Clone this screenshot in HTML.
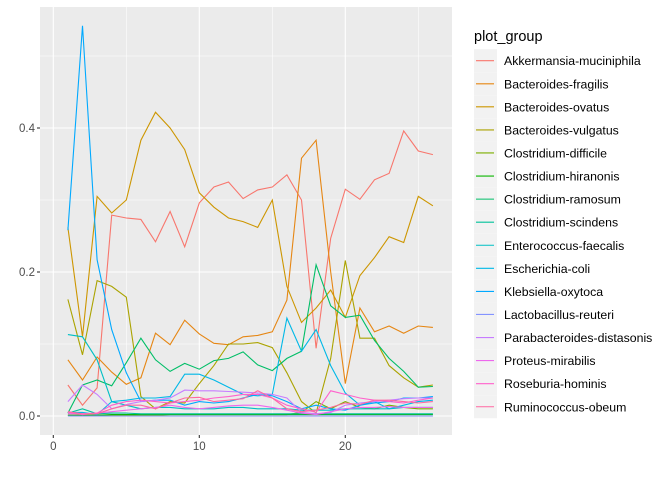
<!DOCTYPE html>
<html><head><meta charset="utf-8"><style>
body{margin:0;background:#fff;}
svg text{font-family:"Liberation Sans",sans-serif;}
</style></head><body>
<svg id="chart" width="672" height="480" xmlns="http://www.w3.org/2000/svg">
<rect x="0" y="0" width="672" height="480" fill="#fff"/>
<g id="panel"></g>
<g id="series"></g>
<g id="axes"></g>
<g id="legend"></g>
</svg>
<script>
const xs = [1,2,3,4,5,6,7,8,9,10,11,12,13,14,15,16,17,18,19,20,21,22,23,24,25,26];
const groups = ["Akkermansia-muciniphila","Bacteroides-fragilis","Bacteroides-ovatus","Bacteroides-vulgatus","Clostridium-difficile","Clostridium-hiranonis","Clostridium-ramosum","Clostridium-scindens","Enterococcus-faecalis","Escherichia-coli","Klebsiella-oxytoca","Lactobacillus-reuteri","Parabacteroides-distasonis","Proteus-mirabilis","Roseburia-hominis","Ruminococcus-obeum"];
const colors = ["#F8766D","#E68613","#CD9600","#ABA300","#7CAE00","#0CB702","#00BE67","#00C19A","#00BFC4","#00B8E7","#00A9FF","#8494FF","#C77CFF","#ED68ED","#FF61CC","#FF68A1"];
const akkermansia = [0.043,0.015,0.039,0.279,0.275,0.273,0.242,0.284,0.235,0.296,0.318,0.325,0.302,0.314,0.318,0.335,0.300,0.094,0.247,0.315,0.301,0.328,0.337,0.396,0.368,0.363];
const fragilis = [0.078,0.050,0.082,0.061,0.044,0.053,0.115,0.099,0.133,0.114,0.101,0.099,0.110,0.112,0.117,0.161,0.358,0.383,0.200,0.045,0.150,0.117,0.125,0.115,0.125,0.123];
const ovatus = [0.262,0.110,0.305,0.282,0.300,0.383,0.422,0.400,0.370,0.310,0.290,0.275,0.270,0.262,0.300,0.180,0.130,0.150,0.175,0.137,0.195,0.220,0.249,0.241,0.305,0.292];
const vulgatus = [0.162,0.085,0.188,0.180,0.165,0.027,0.010,0.020,0.018,0.045,0.070,0.100,0.100,0.102,0.095,0.060,0.020,0.004,0.080,0.216,0.108,0.108,0.070,0.053,0.040,0.043];
const difficile = [0.001,0.001,0.001,0.001,0.001,0.001,0.001,0.002,0.002,0.002,0.002,0.002,0.002,0.002,0.002,0.002,0.005,0.020,0.010,0.020,0.012,0.010,0.015,0.012,0.010,0.010];
const hiranonis = [0.001,0.001,0.001,0.002,0.002,0.002,0.002,0.002,0.002,0.002,0.002,0.002,0.002,0.002,0.002,0.002,0.002,0.002,0.002,0.002,0.002,0.002,0.002,0.002,0.002,0.002];
const ramosum = [0.004,0.043,0.050,0.042,0.074,0.108,0.078,0.062,0.073,0.065,0.077,0.080,0.089,0.071,0.063,0.080,0.090,0.210,0.153,0.137,0.140,0.105,0.080,0.062,0.040,0.041];
const scindens = [0.004,0.010,0.003,0.004,0.004,0.003,0.003,0.003,0.003,0.003,0.003,0.003,0.003,0.003,0.003,0.003,0.003,0.003,0.003,0.003,0.003,0.003,0.003,0.003,0.003,0.003];
const faecalis = [0.113,0.110,0.078,0.020,0.015,0.010,0.012,0.012,0.010,0.010,0.010,0.012,0.012,0.010,0.010,0.010,0.008,0.008,0.008,0.010,0.010,0.010,0.010,0.012,0.012,0.012];
const coli = [0.005,0.005,0.002,0.020,0.022,0.025,0.025,0.027,0.058,0.058,0.050,0.040,0.030,0.028,0.030,0.136,0.090,0.120,0.070,0.032,0.015,0.020,0.010,0.015,0.020,0.022];
const klebsiella = [0.258,0.542,0.217,0.120,0.060,0.020,0.022,0.022,0.015,0.020,0.018,0.020,0.025,0.030,0.028,0.020,0.010,0.015,0.010,0.008,0.015,0.018,0.020,0.025,0.025,0.027];
const reuteri = [0.000,0.000,0.000,0.000,0.000,0.000,0.000,0.000,0.000,0.000,0.000,0.000,0.000,0.000,0.000,0.000,0.000,0.000,0.000,0.000,0.000,0.000,0.000,0.000,0.000,0.000];
const distasonis = [0.020,0.043,0.030,0.010,0.016,0.020,0.022,0.025,0.036,0.035,0.035,0.034,0.033,0.032,0.030,0.025,0.005,0.003,0.005,0.015,0.018,0.020,0.022,0.024,0.025,0.025];
const mirabilis = [0.003,0.003,0.004,0.006,0.008,0.010,0.012,0.015,0.012,0.010,0.012,0.014,0.015,0.015,0.012,0.008,0.004,0.002,0.006,0.010,0.012,0.012,0.013,0.012,0.012,0.012];
const roseburia = [0.005,0.002,0.004,0.015,0.020,0.022,0.020,0.018,0.020,0.022,0.025,0.027,0.030,0.030,0.025,0.015,0.010,0.005,0.035,0.030,0.025,0.022,0.020,0.018,0.022,0.025];
const obeum = [0.006,0.003,0.003,0.010,0.015,0.015,0.010,0.018,0.025,0.026,0.020,0.022,0.024,0.035,0.025,0.010,0.006,0.008,0.012,0.018,0.016,0.022,0.022,0.020,0.018,0.020];
const seriesValues = [akkermansia,fragilis,ovatus,vulgatus,difficile,hiranonis,ramosum,scindens,faecalis,coli,klebsiella,reuteri,distasonis,mirabilis,roseburia,obeum];
const yTicks = [0,0.2,0.4];
const yTickLabels = ["0.0","0.2","0.4"];
const xTicks = [0,10,20];
const xTickLabels = ["0","10","20"];

const NS="http://www.w3.org/2000/svg";
const P={l:40,r:452,t:7,b:435};
function xScale(v){return 53.3+(v)*14.6;}
function yScale(v){return 416-v*720;}
function mk(tag,attrs,parent){const e=document.createElementNS(NS,tag);for(const k in attrs)e.setAttribute(k,attrs[k]);parent.appendChild(e);return e;}

const panel=document.getElementById('panel');
const bg=mk('rect',{x:P.l,y:P.t,width:P.r-P.l,height:P.b-P.t,fill:'#EBEBEB'},panel);


[0.1,0.3,0.5].forEach(v=>{const l=mk('line',{x1:P.l,x2:P.r,y1:yScale(v),y2:yScale(v),stroke:'#fff','stroke-width':0.55},panel);

});
[5,15,25].forEach(v=>{const l=mk('line',{x1:xScale(v),x2:xScale(v),y1:P.t,y2:P.b,stroke:'#fff','stroke-width':0.55},panel);

});
yTicks.forEach(v=>{const l=mk('line',{x1:P.l,x2:P.r,y1:yScale(v),y2:yScale(v),stroke:'#fff','stroke-width':1.1},panel);

});
xTicks.forEach(v=>{const l=mk('line',{x1:xScale(v),x2:xScale(v),y1:P.t,y2:P.b,stroke:'#fff','stroke-width':1.1},panel);

});

const sg=document.getElementById('series');
seriesValues.forEach((vals,i)=>{
  const pts=vals.map((v,j)=>xScale(xs[j]).toFixed(1)+','+yScale(v).toFixed(1)).join(' ');
  const pl=mk('polyline',{points:pts,fill:'none',stroke:colors[i],'stroke-width':1.1},sg);
  
  
});

const ax=document.getElementById('axes');
yTicks.forEach((v,i)=>{
  const t=mk('line',{x1:P.l-3,x2:P.l,y1:yScale(v),y2:yScale(v),stroke:'#333','stroke-width':1.1},ax);
  
  
  const tx=mk('text',{x:P.l-5,y:yScale(v)+4,'text-anchor':'end','font-size':'11.5',fill:'#4D4D4D'},ax);
  tx.textContent=yTickLabels[i];
  
  
});
xTicks.forEach((v,i)=>{
  const t=mk('line',{x1:xScale(v),x2:xScale(v),y1:P.b,y2:P.b+3,stroke:'#333','stroke-width':1.1},ax);
  
  
  const tx=mk('text',{x:xScale(v),y:P.b+15,'text-anchor':'middle','font-size':'11.5',fill:'#4D4D4D'},ax);
  tx.textContent=xTickLabels[i];
  
  
});

const lg=document.getElementById('legend');
const title=mk('text',{x:474,y:41,'font-size':'14.5',fill:'#000'},lg);
title.textContent='plot_group';


groups.forEach((g,i)=>{
  const cy=60.7+i*23.07;
  const kb=mk('rect',{x:474,y:cy-11.5,width:23,height:23,fill:'#F2F2F2'},lg);
  
  
  const kl=mk('line',{x1:476,x2:494,y1:cy,y2:cy,stroke:colors[i],'stroke-width':1.1},lg);
  
  
  const t=mk('text',{x:504,y:cy+4.5,'font-size':'12.3',fill:'#000'},lg);
  t.textContent=g;
  
  
});
</script>
</body></html>
